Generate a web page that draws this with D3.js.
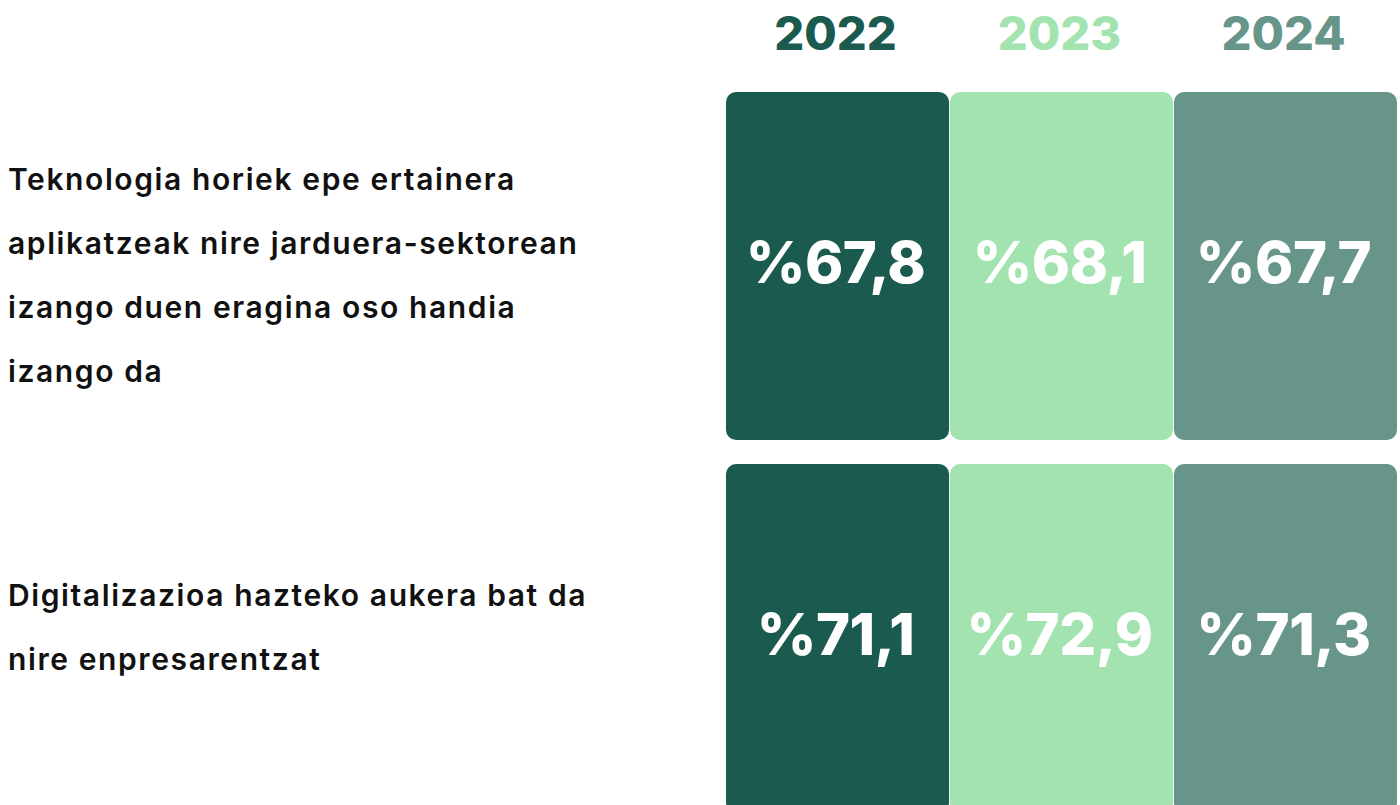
<!DOCTYPE html>
<html><head><meta charset="utf-8">
<script src="https://cdn.jsdelivr.net/npm/d3@7"></script>
<style>html,body{margin:0;padding:0;background:#fff;overflow:hidden}</style>
</head><body>
<svg id="chart" width="1400" height="805"></svg>
<script>
const years = ["2022", "2023", "2024"];
const questions = [
  ["Teknologia horiek epe ertainera", "aplikatzeak nire jarduera-sektorean", "izango duen eragina oso handia", "izango da"],
  ["Digitalizazioa hazteko aukera bat da", "nire enpresarentzat"]
];
const values2022 = [67.8, 71.1];
const values2023 = [68.1, 72.9];
const values2024 = [67.7, 71.3];
const colors = ["#1b5a4f", "#a3e3b0", "#68958a"];

const series = [values2022, values2023, values2024];
const svg = d3.select("#chart");
const font = "Inter, 'DejaVu Sans', sans-serif";

const x = d3.scaleBand().domain(years).range([726, 1397]).paddingInner(0.004);
const y = d3.scaleBand().domain(d3.range(questions.length)).range([92, 812]).paddingInner(24 / 372);
const color = d3.scaleOrdinal().domain(years).range(colors);
const fmt = v => "%" + d3.format(".1f")(v).replace(".", ",");

// headers
svg.selectAll("text.year").data(years).join("text")
  .attr("class", "year")
  .attr("x", d => x(d) + x.bandwidth() / 2 - 2)
  .attr("y", 50)
  .attr("text-anchor", "middle")
  .attr("font-family", font).attr("font-weight", 800).attr("font-size", 47)
  .attr("letter-spacing", 0)
  .attr("fill", d => color(d))
  .text(d => d);

// cells
const cells = [];
years.forEach((yr, i) => questions.forEach((q, j) => cells.push({yr, j, v: series[i][j]})));

svg.selectAll("rect.cell").data(cells).join("rect")
  .attr("class", "cell")
  .attr("x", d => x(d.yr)).attr("y", d => y(d.j))
  .attr("width", x.bandwidth()).attr("height", y.bandwidth())
  .attr("rx", 10).attr("ry", 10)
  .attr("fill", d => color(d.yr));

svg.selectAll("text.val").data(cells).join("text")
  .attr("class", "val")
  .attr("x", d => x(d.yr) + x.bandwidth() / 2 - 2)
  .attr("y", d => y(d.j) + y.bandwidth() / 2 + 17)
  .attr("text-anchor", "middle")
  .attr("font-family", font).attr("font-weight", 800).attr("font-size", 58)
  .attr("letter-spacing", -0.5)
  .attr("fill", "#fff")
  .text(d => fmt(d.v));

// row labels
const lineH = 64;
questions.forEach((lines, j) => {
  const cy = j === 0 ? 276 : 628;
  const t = svg.append("text")
    .attr("font-family", font).attr("font-weight", 600).attr("font-size", 30)
    .attr("letter-spacing", 1.6)
    .attr("fill", "#111");
  lines.forEach((ln, k) => {
    t.append("tspan").attr("x", 8)
      .attr("y", cy + (k - (lines.length - 1) / 2) * lineH + 10)
      .text(ln);
  });
});
</script>
</body></html>
